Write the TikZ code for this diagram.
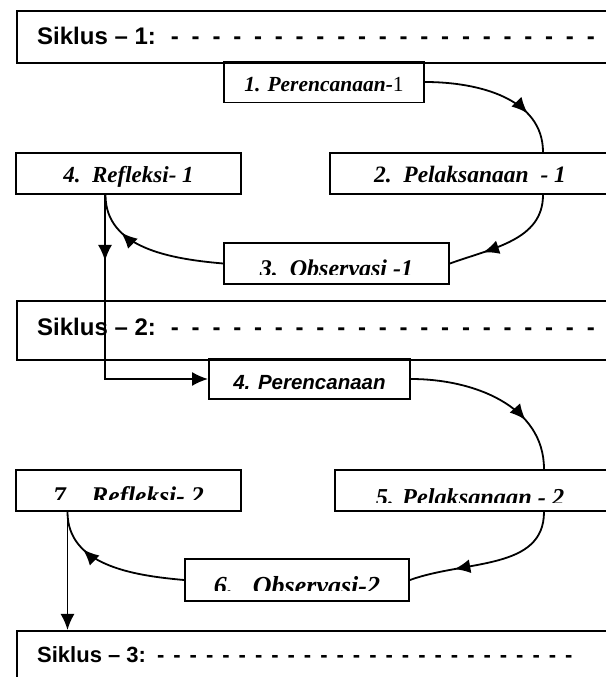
\documentclass[tikz,border=0pt]{standalone}
\usepackage{fontspec}
\setmainfont{Liberation Serif}
\setsansfont{Liberation Sans}
\usetikzlibrary{arrows.meta,decorations.markings}

\begin{document}
\begin{tikzpicture}[x=1pt,y=1pt,
  >={Latex[length=16pt,width=14pt]},
  kotak/.style={draw,line width=1.9pt,inner sep=0pt,minimum height=41pt},
  siklus/.style={draw,line width=1.9pt,inner sep=0pt,anchor=north west,minimum width=610pt},
  judul/.style={anchor=base west,inner sep=0pt,font=\sffamily\bfseries\fontsize{#1}{#1}\selectfont},
  tahap/.style={anchor=base,inner sep=0pt,font=\bfseries\itshape\fontsize{#1}{#1}\selectfont},
  panah/.style={line width=1.8pt,postaction={decorate},
    decoration={markings,mark=at position #1 with {\arrow{>}}}}]

\useasboundingbox (0,0) rectangle (605,677);

% siklus 1
\node[siklus,minimum height=52pt] (siklus1) at (16,667) {};
\node[judul=24] (judul1) at (37,632) {Siklus – 1:{\spaceskip=12.8pt{} - - - - - - - - - - - - - - - - - - - - -}};

\node[kotak,minimum width=200pt] (per1) at (324,595) {};
\node[tahap=21.5] (tper1) at (324,585) {1. Perencanaan-{\mdseries\upshape 1}};

\node[kotak,minimum width=225pt] (ref1) at (128.5,503.5) {};
\node[tahap=23] (tref1) at (128.5,494) {4.\ \ Refleksi- 1};

\node[kotak,minimum width=280pt] (pel1) at (470,503.5) {};
\node[tahap=23.5] (tpel1) at (470,494) {2.\ \ Pelaksanaan\ \ - 1};

\node[kotak,minimum width=225pt] (obs1) at (336.5,413.5) {};
\begin{scope}
  \clip (224,402) rectangle (449,434);
  \node[tahap=24] (tobs1) at (336.5,400) {3.\ \ Observasi -1};
\end{scope}

\draw[panah=0.72] (per1.east) to[out=0,in=90] ([xshift=73pt]pel1.north);
\draw[panah=0.72] ([xshift=73pt]pel1.south) to[out=-90,in=20] (obs1.east);
\draw[panah=0.72] (obs1.west) to[out=175,in=-90] ([xshift=-23pt]ref1.south);

% siklus 2
\node[siklus,minimum height=59pt] (siklus2) at (16,377) {};
\node[judul=24] (judul2) at (37,341) {Siklus – 2:{\spaceskip=12.8pt{} - - - - - - - - - - - - - - - - - - - - -}};

\node[kotak,minimum width=201pt,minimum height=40pt] (per2) at (309.5,298) {};
\node[anchor=base,inner sep=0pt,font=\sffamily\bfseries\itshape\fontsize{20.5}{20.5}\selectfont] (tper2) at (309.5,287) {4. Perencanaan};

\coordinate (r1) at ([xshift=-23.5pt]ref1.south);
\draw[panah=0.23,->] (r1) |- (per2.west);

\node[kotak,minimum width=225pt] (ref2) at (128.5,186.5) {};
\begin{scope}
  \clip (16,177) rectangle (241,207);
  \node[tahap=25.5] (tref2) at (128.5,172) {7.\ \ \ Refleksi- 2};
\end{scope}

\node[kotak,minimum width=277pt] (pel2) at (473.5,186.5) {};
\begin{scope}
  \clip (335,174) rectangle (612,207);
  \node[tahap=24.3] (tpel2) at (470,171) {5. Pelaksanaan - 2};
\end{scope}

\node[kotak,minimum width=224pt,minimum height=42pt] (obs2) at (297,97) {};
\begin{scope}
  \clip (185,86.5) rectangle (409,118);
  \node[tahap=26] (tobs2) at (297,82.5) {6.\ \ \ Observasi-2};
\end{scope}

\draw[panah=0.7] (per2.east) to[out=0,in=90] ([xshift=70.5pt]pel2.north);
\draw[panah=0.72] ([xshift=70.5pt]pel2.south) to[out=-90,in=20] (obs2.east);
\draw[panah=0.72] (obs2.west) to[out=175,in=-90] ([xshift=-61pt]ref2.south);

% siklus 3
\node[siklus,minimum height=70pt] (siklus3) at (16,47) {};
\node[judul=22] (judul3) at (37,14) {Siklus – 3:{\spaceskip=9pt{} - - - - - - - - - - - - - - - - - - - - - - - - - -}};

\coordinate (r2) at ([xshift=-61pt]ref2.south);
\draw[line width=1.8pt,->] (r2) -- (r2 |- siklus3.north);

\end{tikzpicture}
\end{document}
